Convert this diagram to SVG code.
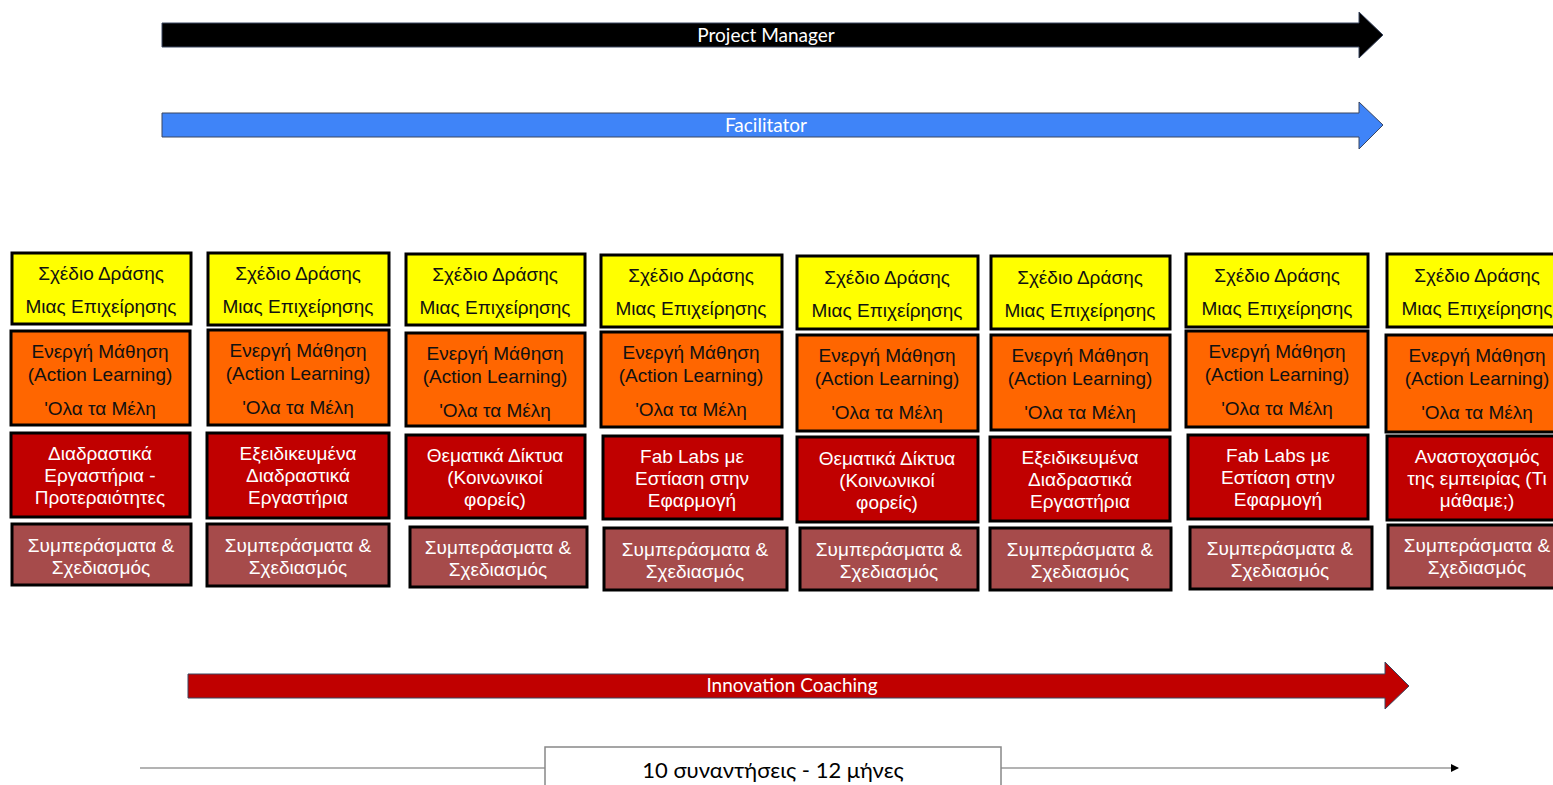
<svg xmlns="http://www.w3.org/2000/svg" width="1553" height="785" viewBox="0 0 1553 785">
<defs>
<marker id="tl" markerWidth="8" markerHeight="8" refX="7" refY="4" orient="auto" markerUnits="userSpaceOnUse">
<path d="M0,0 L8,4 L0,8 Z" fill="#000"/>
</marker>
</defs>
<style>
.y{fill:#FFFF00;stroke:#000;stroke-width:3}
.o{fill:#FF6600;stroke:#000;stroke-width:3}
.r{fill:#C00000;stroke:#000;stroke-width:3}
.b{fill:#A64B4B;stroke:#000;stroke-width:3}
.dk,.wt{font-family:"Liberation Sans",Arial,sans-serif;font-size:19px;text-anchor:middle}
.dk{fill:#111}
.wt{fill:#fff}
.al{font-family:Lato,"Liberation Sans",sans-serif;font-size:19px;fill:#fff;text-anchor:middle}
.tl{font-family:Lato,"Liberation Sans",sans-serif;font-size:22px;fill:#000;text-anchor:middle}
.arr{stroke:#3a4660;stroke-width:1}
</style>
<rect width="1553" height="785" fill="#fff"/>
<g id="connectors">
<g id="pm">
<path class="arr" d="M162,23 H1359 V12 L1383,35 L1359,58 V47 H162 Z" fill="#000"/>
<text class="al" x="766" y="42">Project Manager</text>
</g>
<g id="fac">
<path class="arr" d="M162,113 H1359 V102 L1383,125 L1359,149 V137 H162 Z" fill="#3F84F8"/>
<text class="al" x="766" y="132">Facilitator</text>
</g>
<g id="ic">
<path class="arr" d="M188,674 H1385 V662 L1409,686 L1385,709 V698 H188 Z" fill="#C00000"/>
<text class="al" x="792" y="692">Innovation Coaching</text>
</g>
<g id="timeline">
<line x1="140" y1="768" x2="1458" y2="768" stroke="#9a9a9a" stroke-width="1.5" marker-end="url(#tl)"/>
<rect x="545" y="747" width="456" height="50" fill="#fff" stroke="#888" stroke-width="1.5"/>
<text class="tl" x="773" y="778">10 συναντήσεις - 12 μήνες</text>
</g>
</g>

<!-- Column 1 -->
<g id="c1y"><rect class="y" x="12" y="253" width="179" height="71"/><text class="dk" x="101" y="280">Σχέδιο Δράσης</text><text class="dk" x="101" y="313">Μιας Επιχείρησης</text></g>
<g id="c1o"><rect class="o" x="11" y="331" width="179" height="94"/><text class="dk" x="100" y="358">Ενεργή Μάθηση</text><text class="dk" x="100" y="381">(Action Learning)</text><text class="dk" x="100" y="415">'Ολα τα Μέλη</text></g>
<g id="c1r"><rect class="r" x="11" y="433" width="179" height="84"/><text class="wt" x="100" y="460">Διαδραστικά</text><text class="wt" x="100" y="482">Εργαστήρια -</text><text class="wt" x="100" y="504">Προτεραιότητες</text></g>
<g id="c1b"><rect class="b" x="12" y="524" width="179" height="61"/><text class="wt" x="101" y="552">Συμπεράσματα &amp;</text><text class="wt" x="101" y="574">Σχεδιασμός</text></g>

<!-- Column 2 -->
<g id="c2y"><rect class="y" x="208" y="253" width="181" height="72"/><text class="dk" x="298" y="280">Σχέδιο Δράσης</text><text class="dk" x="298" y="313">Μιας Επιχείρησης</text></g>
<g id="c2o"><rect class="o" x="208" y="330" width="181" height="95"/><text class="dk" x="298" y="357">Ενεργή Μάθηση</text><text class="dk" x="298" y="380">(Action Learning)</text><text class="dk" x="298" y="414">'Ολα τα Μέλη</text></g>
<g id="c2r"><rect class="r" x="207" y="433" width="182" height="85"/><text class="wt" x="298" y="460">Εξειδικευμένα</text><text class="wt" x="298" y="482">Διαδραστικά</text><text class="wt" x="298" y="504">Εργαστήρια</text></g>
<g id="c2b"><rect class="b" x="207" y="524" width="182" height="62"/><text class="wt" x="298" y="552">Συμπεράσματα &amp;</text><text class="wt" x="298" y="574">Σχεδιασμός</text></g>

<!-- Column 3 -->
<g id="c3y"><rect class="y" x="406" y="254" width="179" height="71"/><text class="dk" x="495" y="281">Σχέδιο Δράσης</text><text class="dk" x="495" y="314">Μιας Επιχείρησης</text></g>
<g id="c3o"><rect class="o" x="406" y="333" width="179" height="93"/><text class="dk" x="495" y="360">Ενεργή Μάθηση</text><text class="dk" x="495" y="383">(Action Learning)</text><text class="dk" x="495" y="417">'Ολα τα Μέλη</text></g>
<g id="c3r"><rect class="r" x="406" y="435" width="179" height="83"/><text class="wt" x="495" y="462">Θεματικά Δίκτυα</text><text class="wt" x="495" y="484">(Κοινωνικοί</text><text class="wt" x="495" y="506">φορείς)</text></g>
<g id="c3b"><rect class="b" x="410" y="527" width="177" height="60"/><text class="wt" x="498" y="554">Συμπεράσματα &amp;</text><text class="wt" x="498" y="576">Σχεδιασμός</text></g>

<!-- Column 4 -->
<g id="c4y"><rect class="y" x="601" y="255" width="181" height="72"/><text class="dk" x="691" y="282">Σχέδιο Δράσης</text><text class="dk" x="691" y="315">Μιας Επιχείρησης</text></g>
<g id="c4o"><rect class="o" x="601" y="332" width="181" height="95"/><text class="dk" x="691" y="359">Ενεργή Μάθηση</text><text class="dk" x="691" y="382">(Action Learning)</text><text class="dk" x="691" y="416">'Ολα τα Μέλη</text></g>
<g id="c4r"><rect class="r" x="603" y="436" width="179" height="83"/><text class="wt" x="692" y="463">Fab Labs με</text><text class="wt" x="692" y="485">Εστίαση στην</text><text class="wt" x="692" y="507">Εφαρμογή</text></g>
<g id="c4b"><rect class="b" x="604" y="528" width="183" height="62"/><text class="wt" x="695" y="556">Συμπεράσματα &amp;</text><text class="wt" x="695" y="578">Σχεδιασμός</text></g>

<!-- Column 5 -->
<g id="c5y"><rect class="y" x="797" y="256" width="181" height="73"/><text class="dk" x="887" y="284">Σχέδιο Δράσης</text><text class="dk" x="887" y="317">Μιας Επιχείρησης</text></g>
<g id="c5o"><rect class="o" x="797" y="335" width="181" height="96"/><text class="dk" x="887" y="362">Ενεργή Μάθηση</text><text class="dk" x="887" y="385">(Action Learning)</text><text class="dk" x="887" y="419">'Ολα τα Μέλη</text></g>
<g id="c5r"><rect class="r" x="797" y="437" width="181" height="85"/><text class="wt" x="887" y="465">Θεματικά Δίκτυα</text><text class="wt" x="887" y="487">(Κοινωνικοί</text><text class="wt" x="887" y="509">φορείς)</text></g>
<g id="c5b"><rect class="b" x="800" y="528" width="178" height="62"/><text class="wt" x="889" y="556">Συμπεράσματα &amp;</text><text class="wt" x="889" y="578">Σχεδιασμός</text></g>

<!-- Column 6 -->
<g id="c6y"><rect class="y" x="991" y="256" width="179" height="73"/><text class="dk" x="1080" y="284">Σχέδιο Δράσης</text><text class="dk" x="1080" y="317">Μιας Επιχείρησης</text></g>
<g id="c6o"><rect class="o" x="991" y="335" width="179" height="95"/><text class="dk" x="1080" y="362">Ενεργή Μάθηση</text><text class="dk" x="1080" y="385">(Action Learning)</text><text class="dk" x="1080" y="419">'Ολα τα Μέλη</text></g>
<g id="c6r"><rect class="r" x="990" y="437" width="180" height="84"/><text class="wt" x="1080" y="464">Εξειδικευμένα</text><text class="wt" x="1080" y="486">Διαδραστικά</text><text class="wt" x="1080" y="508">Εργαστήρια</text></g>
<g id="c6b"><rect class="b" x="990" y="528" width="181" height="62"/><text class="wt" x="1080" y="556">Συμπεράσματα &amp;</text><text class="wt" x="1080" y="578">Σχεδιασμός</text></g>

<!-- Column 7 -->
<g id="c7y"><rect class="y" x="1186" y="254" width="182" height="73"/><text class="dk" x="1277" y="282">Σχέδιο Δράσης</text><text class="dk" x="1277" y="315">Μιας Επιχείρησης</text></g>
<g id="c7o"><rect class="o" x="1186" y="331" width="182" height="96"/><text class="dk" x="1277" y="358">Ενεργή Μάθηση</text><text class="dk" x="1277" y="381">(Action Learning)</text><text class="dk" x="1277" y="415">'Ολα τα Μέλη</text></g>
<g id="c7r"><rect class="r" x="1188" y="435" width="180" height="84"/><text class="wt" x="1278" y="462">Fab Labs με</text><text class="wt" x="1278" y="484">Εστίαση στην</text><text class="wt" x="1278" y="506">Εφαρμογή</text></g>
<g id="c7b"><rect class="b" x="1190" y="527" width="182" height="62"/><text class="wt" x="1280" y="555">Συμπεράσματα &amp;</text><text class="wt" x="1280" y="577">Σχεδιασμός</text></g>

<!-- Column 8 -->
<g id="c8y"><rect class="y" x="1387" y="254" width="182" height="73"/><text class="dk" x="1477" y="282">Σχέδιο Δράσης</text><text class="dk" x="1477" y="315">Μιας Επιχείρησης</text></g>
<g id="c8o"><rect class="o" x="1386" y="335" width="183" height="97"/><text class="dk" x="1477" y="362">Ενεργή Μάθηση</text><text class="dk" x="1477" y="385">(Action Learning)</text><text class="dk" x="1477" y="419">'Ολα τα Μέλη</text></g>
<g id="c8r"><rect class="r" x="1387" y="436" width="182" height="84"/><text class="wt" x="1477" y="463">Αναστοχασμός</text><text class="wt" x="1477" y="485">της εμπειρίας (Τι</text><text class="wt" x="1477" y="507">μάθαμε;)</text></g>
<g id="c8b"><rect class="b" x="1388" y="525" width="182" height="63"/><text class="wt" x="1477" y="552">Συμπεράσματα &amp;</text><text class="wt" x="1477" y="574">Σχεδιασμός</text></g>
</svg>
